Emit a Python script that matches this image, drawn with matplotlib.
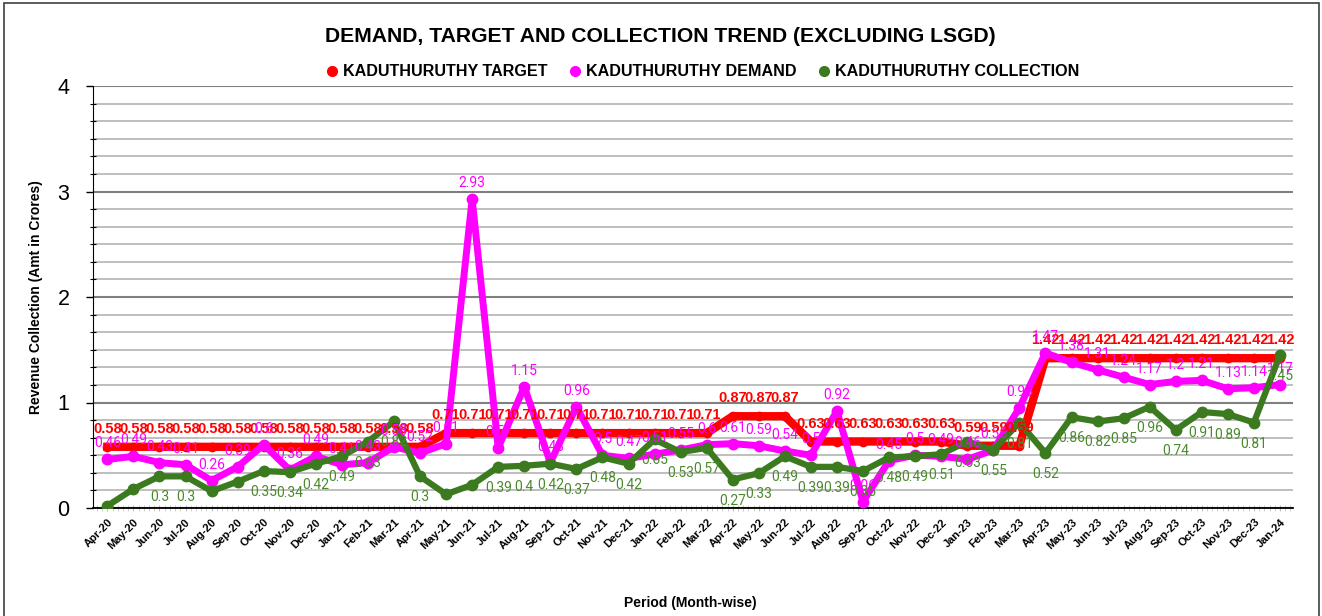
import matplotlib
matplotlib.use("Agg")
import matplotlib.pyplot as plt
from matplotlib.patches import Rectangle
import numpy as np

plt.rcParams['font.family'] = ['Liberation Sans', 'DejaVu Sans']

# months Apr-20 .. Jan-24
months = ["Apr-20", "May-20", "Jun-20", "Jul-20", "Aug-20", "Sep-20", "Oct-20", "Nov-20",
          "Dec-20", "Jan-21", "Feb-21", "Mar-21", "Apr-21", "May-21", "Jun-21", "Jul-21",
          "Aug-21", "Sep-21", "Oct-21", "Nov-21", "Dec-21", "Jan-22", "Feb-22", "Mar-22",
          "Apr-22", "May-22", "Jun-22", "Jul-22", "Aug-22", "Sep-22", "Oct-22", "Nov-22",
          "Dec-22", "Jan-23", "Feb-23", "Mar-23", "Apr-23", "May-23", "Jun-23", "Jul-23",
          "Aug-23", "Sep-23", "Oct-23", "Nov-23", "Dec-23", "Jan-24"]

target = [0.58, 0.58, 0.58, 0.58, 0.58, 0.58, 0.58, 0.58, 0.58, 0.58, 0.58, 0.58, 0.58,
          0.71, 0.71, 0.71, 0.71, 0.71, 0.71, 0.71, 0.71, 0.71, 0.71, 0.71,
          0.87, 0.87, 0.87,
          0.63, 0.63, 0.63, 0.63, 0.63, 0.63,
          0.59, 0.59, 0.59,
          1.42, 1.42, 1.42, 1.42, 1.42, 1.42, 1.42, 1.42, 1.42, 1.42]

demand = [0.46, 0.49, 0.43, 0.41, 0.26, 0.39, 0.6, 0.36, 0.49, 0.41, 0.43, 0.58,
          0.52, 0.61, 2.93, 0.57, 1.15, 0.43, 0.96, 0.5, 0.47, 0.51, 0.55, 0.6,
          0.61, 0.59, 0.54, 0.5, 0.92, 0.06, 0.45, 0.5, 0.49, 0.46, 0.55, 0.95,
          1.47, 1.38, 1.31, 1.24, 1.17, 1.2, 1.21, 1.13, 1.14, 1.17]

collection = [0.02, 0.18, 0.3, 0.3, 0.16, 0.25, 0.35, 0.34, 0.42, 0.49, 0.63, 0.82,
              0.3, 0.13, 0.22, 0.39, 0.4, 0.42, 0.37, 0.48, 0.42, 0.65, 0.53, 0.57,
              0.27, 0.33, 0.49, 0.39, 0.39, 0.35, 0.48, 0.49, 0.51, 0.63, 0.55, 0.81,
              0.52, 0.86, 0.82, 0.85, 0.96, 0.74, 0.91, 0.89, 0.81, 1.45]

# months whose collection label is not shown in the reference
coll_hidden = {"Apr-20", "May-20", "Aug-20", "Sep-20", "May-21", "Jun-21"}

RED = "#ff0000"
MAG = "#ff00ff"
GRN = "#3b7a1e"
GRN_TXT = "#4a8a2c"

fig = plt.figure(figsize=(13.22, 6.16), dpi=100)
ax = fig.add_axes([93 / 1322, 1 - 508 / 616, 1200 / 1322, 422 / 616])

x = np.arange(len(months))

ax.plot(x, target, color=RED, lw=6, marker="o", ms=6, zorder=3,
        solid_joinstyle="round", label="KADUTHURUTHY TARGET")
ax.plot(x, demand, color=MAG, lw=5, marker="o", ms=7.5, zorder=4,
        solid_joinstyle="round", label="KADUTHURUTHY DEMAND")
ax.plot(x, collection, color=GRN, lw=4.5, marker="o", ms=7.5, zorder=5,
        solid_joinstyle="round", label="KADUTHURUTHY COLLECTION")

# data labels
for i, v in enumerate(target):
    ax.annotate(f"{v:g}", (i, v), xytext=(0, 18), textcoords="offset pixels",
                ha="center", va="center", fontsize=10.5, fontweight="bold",
                color=RED, zorder=6)
for i, v in enumerate(demand):
    ax.annotate(f"{v:g}", (i, v), xytext=(0, 16), textcoords="offset pixels",
                ha="center", va="center", fontsize=10, family="Roboto",
                color=MAG, zorder=6)
for i, v in enumerate(collection):
    if months[i] in coll_hidden:
        continue
    ax.annotate(f"{v:g}", (i, v), xytext=(0, -21), textcoords="offset pixels",
                ha="center", va="center", fontsize=10, family="Roboto",
                color=GRN_TXT, zorder=6)

ax.set_xlim(-0.55, 45.5)
ax.set_ylim(0, 4)

ax.set_yticks([0, 1, 2, 3, 4])
ax.set_yticks(np.arange(0, 4.01, 1 / 6), minor=True)
ax.tick_params(axis="y", which="major", labelsize=15.5, length=5, width=1, pad=12)
ax.tick_params(axis="y", which="minor", length=4, width=0.8, direction="inout")

ax.set_xticks(x)
ax.set_xticklabels(months, rotation=45, ha="right", rotation_mode="anchor",
                   fontsize=8, fontweight="bold")
ax.set_xticks(np.arange(-0.4, 45.5, 0.2), minor=True)
ax.tick_params(axis="x", which="major", length=5, color="#c0c0c0",
               direction="inout", pad=4)
ax.tick_params(axis="x", which="minor", length=4, color="#c8c8c8",
               direction="inout")

ax.grid(axis="y", which="major", color="#7f7f7f", lw=1.5, zorder=0)
ax.grid(axis="y", which="minor", color="#b4b4b4", lw=1.2, zorder=0)
ax.set_axisbelow(True)

for side in ["top", "right"]:
    ax.spines[side].set_visible(False)
ax.spines["left"].set_color("black")
ax.spines["bottom"].set_color("black")
ax.spines["bottom"].set_linewidth(1.3)

ax.set_ylabel("Revenue Collection (Amt in Crores)", fontsize=10,
              fontweight="bold", labelpad=10)
fig.text(690 / 1322, 1 - 603 / 616, "Period (Month-wise)", fontsize=10,
         fontweight="bold", ha="center", va="center")
fig.text(660 / 1322, 1 - 37 / 616,
         "DEMAND, TARGET AND COLLECTION TREND (EXCLUDING LSGD)",
         fontsize=15.2, fontweight="bold", ha="center", va="center")

handles = [plt.Line2D([], [], ls="none", marker="o", ms=7, color=c)
           for c in (RED, MAG, GRN)]
fig.legend(handles, ["KADUTHURUTHY TARGET", "KADUTHURUTHY DEMAND",
                     "KADUTHURUTHY COLLECTION"],
           loc="center", bbox_to_anchor=(701 / 1322, 1 - 72 / 616), ncol=3,
           frameon=False, prop={"weight": "bold", "size": 11.6},
           handletextpad=0.1, columnspacing=1.1, handlelength=1.2)

# outer chart border
fig.patches.append(Rectangle((4 / 1322, -0.01), 1315 / 1322, 1 - 3 / 616 + 0.01,
                             transform=fig.transFigure, fill=False,
                             edgecolor="#404040", lw=1.2))

fig.savefig("out.png", dpi=100)
